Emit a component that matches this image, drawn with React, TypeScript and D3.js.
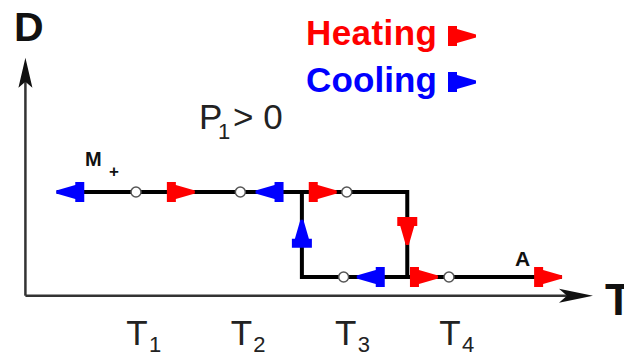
import React from "react";
import * as d3 from "d3";

const width = 624;
const height = 358;

// temperature positions (in T units) and D levels
const tickValues = [1, 2, 3, 4];
const tickLabels = ["1", "2", "3", "4"];
const axisT = [-0.06, 5.38];
const axisD = [-0.22, 2.58];

// main branch: M+ -> upper -> jump down -> A
const mainBranchT = [0.24, 3.6, 3.6, 5.08];
const mainBranchD = [1, 1, 0, 0];
// return branch on cooling
const returnBranchT = [3.6, 2.59, 2.59];
const returnBranchD = [0, 0, 1];

const circleT = [1, 2, 3.02, 2.99, 4];
const circleD = [1, 1, 1, 0, 0];

const arrowT = [0.37, 1.43, 2.28, 2.79, 3.6, 2.59, 3.25, 3.76, 4.95];
const arrowD = [1, 1, 1, 1, 0.54, 0.51, 0, 0, 0];
const arrowDir = ["left", "right", "left", "right", "down", "up", "left", "right", "right"];
const arrowKind = ["cool", "heat", "cool", "heat", "heat", "cool", "cool", "heat", "heat"];

const legendNames = ["Heating", "Cooling"];
const legendKinds = ["heat", "cool"];

const colors: Record<string, string> = { heat: "#ff0000", cool: "#0000ff" };
const rotation: Record<string, number> = { right: 0, down: 90, left: 180, up: 270 };

const x = d3.scaleLinear().domain([1, 4]).range([136, 449]);
const y = d3.scaleLinear().domain([0, 1]).range([277, 192]);

const branch = (ts: number[], ds: number[]) =>
  d3.line<[number, number]>().x((d) => x(d[0])).y((d) => y(d[1]))(ts.map((t, i) => [t, ds[i]]));

// blocky arrowhead used on the branches and in the legend
const arrowShape = "M-14,-10L-5,-10L-5,-7L14,-1.5L14,1.5L-5,7L-5,10L-14,10Z";

const font = "'Liberation Sans', Arial, Helvetica, sans-serif";

export default function App() {
  const x0 = x(axisT[0]);
  const x1 = x(axisT[1]);
  const yb = y(axisD[0]);
  const yt = y(axisD[1]);
  return (
    <svg
      width={width}
      height={height}
      style={{ position: "absolute", left: 0, top: 0, background: "#fff" }}
      fontFamily={font}
    >
      {/* axes */}
      <g stroke="#333" strokeWidth={2.5} fill="none">
        <line x1={x0} y1={yb} x2={x1 - 12} y2={yb} />
        <line x1={x0} y1={yb} x2={x0} y2={yt + 14} />
      </g>
      <path d={`M${x1},${yb}L${x1 - 34},${yb - 7}L${x1 - 26},${yb}L${x1 - 34},${yb + 7}Z`} fill="#111" />
      <path d={`M${x0},${yt}L${x0 - 7},${yt + 30}L${x0},${yt + 24}L${x0 + 7},${yt + 30}Z`} fill="#111" />
      <text x={14} y={41} fontSize={41} fontWeight="bold" fill="#111">D</text>
      <text x={605} y={315} fontSize={44} fontWeight="bold" fill="#111">T</text>

      {/* tick labels */}
      {tickValues.map((t, i) => (
        <g key={i} fill="#222">
          <text x={x(t) + 1} y={345} fontSize={35} textAnchor="middle" fontWeight={300}>T</text>
          <text x={x(t) + 13} y={352} fontSize={22} fontWeight={300}>{tickLabels[i]}</text>
        </g>
      ))}

      {/* branches */}
      <g stroke="#000" strokeWidth={4} fill="none" strokeLinejoin="miter">
        <path d={branch(mainBranchT, mainBranchD) || ""} />
        <path d={branch(returnBranchT, returnBranchD) || ""} />
      </g>

      {/* arrows */}
      {arrowT.map((t, i) => (
        <path
          key={i}
          d={arrowShape}
          fill={colors[arrowKind[i]]}
          transform={`translate(${x(t)},${y(arrowD[i])}) rotate(${rotation[arrowDir[i]]})`}
        />
      ))}

      {/* transition points */}
      {circleT.map((t, i) => (
        <circle key={i} cx={x(t)} cy={y(circleD[i])} r={5} fill="#fff" stroke="#555" strokeWidth={1.5} />
      ))}

      {/* phase labels */}
      <text x={85} y={166} fontSize={20} fontWeight="bold" fill="#111">M</text>
      <text x={109} y={177} fontSize={17} fontWeight="bold" fill="#111">+</text>
      <text x={515} y={266} fontSize={21} fontWeight="bold" fill="#111">A</text>

      <text x={199} y={129} fontSize={35} fill="#222" fontWeight={300}>P</text>
      <text x={218} y={139} fontSize={22} fill="#222" fontWeight={300}>1</text>
      <text x={233} y={129} fontSize={35} fill="#222" fontWeight={300}>{"> 0"}</text>

      {/* legend */}
      {legendNames.map((name, i) => (
        <g key={name}>
          <text x={306} y={45 + i * 47} fontSize={35} fontWeight="bold" fill={colors[legendKinds[i]]} textLength={131}>
            {name}
          </text>
          <path d={arrowShape} fill={colors[legendKinds[i]]} transform={`translate(462,${36 + i * 46})`} />
        </g>
      ))}
    </svg>
  );
}
